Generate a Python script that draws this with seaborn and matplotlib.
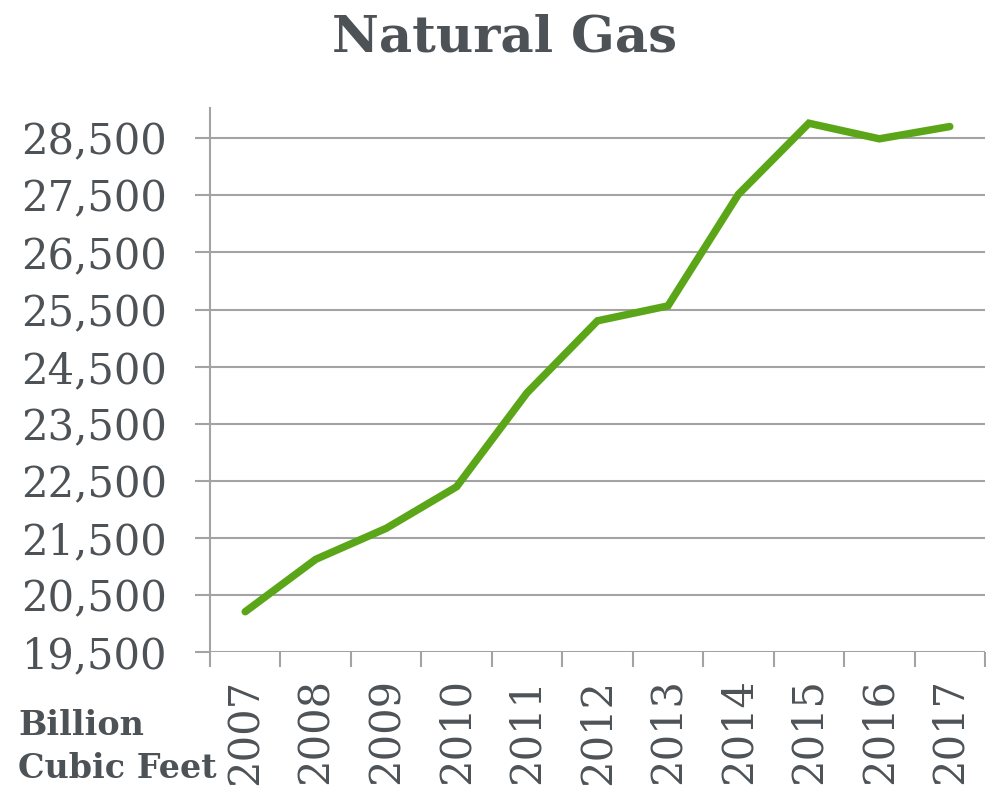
import matplotlib
matplotlib.use("Agg")
import matplotlib.pyplot as plt
import seaborn as sns
import numpy as np

years = ["2007", "2008", "2009", "2010", "2011", "2012",
         "2013", "2014", "2015", "2016", "2017"]
gas = [20206, 21123, 21666, 22395, 24041, 25302,
       25563, 27518, 28763, 28490, 28705]
ytick_vals = [19500, 20500, 21500, 22500, 23500, 24500,
              25500, 26500, 27500, 28500]

TEXT = "#4d5257"
GRID = "#a3a3a3"
GREEN = "#5aa618"

sns.set_style("white")
plt.rcParams["font.family"] = ["DejaVu Serif"]

fig = plt.figure(figsize=(9.87, 7.95), dpi=100, facecolor="white")
ax = fig.add_axes([210 / 987, 1 - 652 / 795, 775 / 987, (652 - 108) / 795])

pos = np.arange(len(years))
sns.lineplot(x=pos, y=gas, ax=ax, color=GREEN, linewidth=5.4, sort=False)
for ln in ax.get_lines():
    ln.set_solid_capstyle("round")
    ln.set_solid_joinstyle("miter")

ax.set_xlim(-0.5, len(years) - 0.5)
ax.set_ylim(19500, 29030)

# category boundaries as major ticks, labels at centres on minor ticks
ax.set_xticks(np.arange(-0.5, len(years), 1.0))
ax.set_xticklabels([])
ax.set_xticks(pos, minor=True)
ax.set_xticklabels(years, minor=True, rotation=90, fontsize=30, color=TEXT,
                   va="top", ha="center")
ax.tick_params(axis="x", which="major", direction="out", length=11, width=1.5,
               color=GRID, bottom=True)
ax.tick_params(axis="x", which="minor", length=0, pad=19, bottom=True)

ax.set_yticks(ytick_vals)
ax.set_yticklabels([f"{v:,}" for v in ytick_vals], fontsize=30, color=TEXT)
ax.tick_params(axis="y", direction="out", length=11, width=1.5, color=GRID,
               pad=20, left=True)

ax.grid(axis="y", color=GRID, linewidth=1.5)
ax.set_axisbelow(True)
for s in ["top", "right", "bottom"]:
    ax.spines[s].set_visible(False)
ax.spines["left"].set_color(GRID)
ax.spines["left"].set_linewidth(1.5)
ax.set_xlabel("")
ax.set_ylabel("")

fig.text(505 / 987, 1 - 52 / 795, "Natural Gas", ha="center", va="baseline",
         fontsize=37, fontweight="bold", color=TEXT)
fig.text(18 / 987, 1 - 735 / 795, "Billion", ha="left", va="baseline",
         fontsize=24, fontweight="bold", color=TEXT)
fig.text(18 / 987, 1 - 778 / 795, "Cubic Feet", ha="left", va="baseline",
         fontsize=24, fontweight="bold", color=TEXT)

fig.savefig("out.png", dpi=100, facecolor="white")
